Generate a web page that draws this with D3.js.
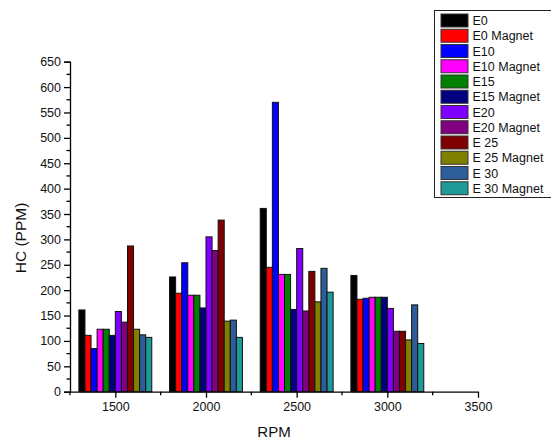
<!DOCTYPE html>
<html>
<head>
<meta charset="utf-8">
<script src="https://cdn.jsdelivr.net/npm/d3@7/dist/d3.min.js"></script>
<style>
  body { margin: 0; background: #fff; }
  svg { display: block; font-family: "Liberation Sans", Arial, sans-serif; }
</style>
</head>
<body>
<div id="chart"></div>
<script>
var rpm = [1500, 2000, 2500, 3000];
var series = ["E0", "E0 Magnet", "E10", "E10 Magnet", "E15", "E15 Magnet",
    "E20", "E20 Magnet", "E 25", "E 25 Magnet", "E 30", "E 30 Magnet"];
var colors = ["#000000", "#ff0000", "#0000ff", "#ff00ff", "#008000", "#000080",
    "#8000ff", "#800080", "#800000", "#808000", "#2d5e9a", "#1f9898"];
// one array per fuel, values at 1500, 2000, 2500, 3000 rpm
var e0 = [161, 226, 361, 229];
var e0Magnet = [111, 194, 245, 182];
var e10 = [85, 254, 570, 184];
var e10Magnet = [123, 190, 231, 186];
var e15 = [123, 190, 231, 186];
var e15Magnet = [111, 165, 162, 186];
var e20 = [158, 305, 282, 164];
var e20Magnet = [137, 278, 159, 119];
var e25 = [287, 338, 237, 119];
var e25Magnet = [123, 139, 177, 102];
var e30 = [112, 141, 243, 171];
var e30Magnet = [107, 107, 196, 95];
var values = [e0, e0Magnet, e10, e10Magnet, e15, e15Magnet,
    e20, e20Magnet, e25, e25Magnet, e30, e30Magnet];
var xTicks = [1500, 2000, 2500, 3000, 3500];
var yTicks = d3.range(0, 651, 50);

var svg = d3.select("#chart")
    .append("svg")
    .attr("width", 551)
    .attr("height", 441);

var x = d3.scaleLinear().domain([1250, 3500]).range([70, 478]);
var y = d3.scaleLinear().domain([0, 650]).range([391.7, 61.7]);
var groupHalf = x(1250 + 201) - x(1250);

var band = d3.scaleBand().domain(series).range([-groupHalf, groupHalf]).padding(0);

var bars = svg.append("g");
series.forEach(function (s, i) {
    bars.selectAll(".b" + i)
        .data(values[i])
        .enter()
        .append("rect")
        .attr("x", function (d, j) { return x(rpm[j]) + band(s); })
        .attr("y", function (d) { return y(d); })
        .attr("width", band.bandwidth())
        .attr("height", function (d) { return y(0) - y(d); })
        .attr("fill", colors[i])
        .attr("stroke", "#111")
        .attr("stroke-width", 1);
});

// y axis
var yAxis = svg.append("g").attr("transform", "translate(70,0)");
yAxis.call(d3.axisLeft(y).tickValues(yTicks).tickSize(6).tickPadding(3))
    .call(function (g) { g.select(".domain").attr("stroke-width", 1.3); });
yAxis.selectAll("text").attr("font-size", 12.5).attr("fill", "#111").attr("font-family", "Liberation Sans, Arial");
yAxis.selectAll(".tick line").attr("stroke-width", 1.3);
yAxis.selectAll(".minor")
    .data(d3.range(25, 650, 50))
    .enter()
    .append("line")
    .attr("class", "minor")
    .attr("x1", -3.5).attr("x2", 0)
    .attr("y1", function (d) { return y(d); })
    .attr("y2", function (d) { return y(d); })
    .attr("stroke", "#000").attr("stroke-width", 1.3);

// x axis
var xAxis = svg.append("g").attr("transform", "translate(0," + y(0) + ")");
xAxis.call(d3.axisBottom(x).tickValues(xTicks).tickFormat(d3.format("d"))
        .tickSize(6).tickPadding(4).tickSizeOuter(0))
    .call(function (g) { g.select(".domain").attr("stroke-width", 1.3); });
xAxis.selectAll("text").attr("font-size", 12.5).attr("fill", "#111").attr("font-family", "Liberation Sans, Arial");
xAxis.selectAll(".tick line").attr("stroke-width", 1.3);
xAxis.selectAll(".minor")
    .data([1250, 1750, 2250, 2750, 3250])
    .enter()
    .append("line")
    .attr("class", "minor")
    .attr("x1", function (d) { return x(d); })
    .attr("x2", function (d) { return x(d); })
    .attr("y1", 0).attr("y2", 3.5)
    .attr("stroke", "#000").attr("stroke-width", 1.3);

svg.append("text")
    .attr("x", 274).attr("y", 437)
    .attr("text-anchor", "middle")
    .attr("font-size", 15)
    .attr("fill", "#111")
    .text("RPM");
svg.append("text")
    .attr("transform", "translate(26,238) rotate(-90)")
    .attr("text-anchor", "middle")
    .attr("font-size", 15.5)
    .attr("fill", "#111")
    .text("HC (PPM)");

// legend
var legend = svg.append("g");
legend.append("rect")
    .attr("x", 434.5).attr("y", 10.5)
    .attr("width", 130).attr("height", 187)
    .attr("fill", "#fff")
    .attr("stroke", "#222").attr("stroke-width", 1);
series.forEach(function (s, i) {
    var ly = 14 + i * 15.25;
    legend.append("rect")
        .attr("x", 441).attr("y", ly)
        .attr("width", 27).attr("height", 13)
        .attr("fill", colors[i])
        .attr("stroke", "#333").attr("stroke-width", 1);
    legend.append("text")
        .attr("x", 472.5).attr("y", ly + 11)
        .attr("font-size", 12.5)
        .attr("fill", "#111")
        .text(s);
});
</script>
</body>
</html>
